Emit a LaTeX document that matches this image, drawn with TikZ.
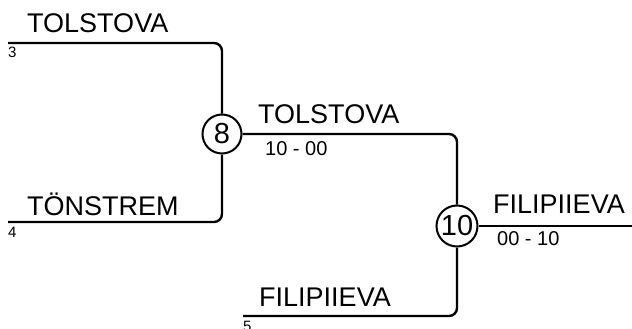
\documentclass[tikz,border=0pt]{standalone}
\usepackage{fontspec}
\setmainfont{Liberation Sans}
\begin{document}
\begin{tikzpicture}[x=1pt,y=-1pt,
  wire/.style={line width=2.4pt,rounded corners=8pt},
  match/.style={circle,draw,line width=2pt,inner sep=0pt,font=\fontsize{29}{32}\selectfont},
  plname/.style={anchor=base west,inner sep=0pt,font=\fontsize{27}{30}\selectfont},
  score/.style={anchor=base west,inner sep=0pt,font=\fontsize{20}{22}\selectfont},
  seed/.style={anchor=base west,inner sep=0pt,font=\fontsize{15}{17}\selectfont}]
\useasboundingbox (0,0) rectangle (632,329);
\node[match,minimum size=39pt] (m8) at (222,134) {8};
\node[match,minimum size=41pt] (m10) at (457,226) {10};
\coordinate (s3) at (8,43);
\coordinate (s4) at (8,222);
\coordinate (s5) at (243,316);
\coordinate (fin) at (632,226);
\draw[wire] (s3) -| (m8);
\draw[wire] (s4) -| (m8);
\draw[wire] (m8) -| (m10);
\draw[wire] (s5) -| (m10);
\draw[wire] (m10) -- (fin);
\node[plname] (t1) at (27,33) {TOLSTOVA};
\node[seed] (n3) at (8,58) {3};
\node[plname] (t2) at (27,215) {TÖNSTREM};
\node[seed] (n4) at (8,237) {4};
\node[plname] (t3) at (258,123) {TOLSTOVA};
\node[score] (r1) at (265,155) {10 - 00};
\node[plname] (t4) at (259,306) {FILIPIIEVA};
\node[seed] (n5) at (243,331) {5};
\node[plname] (t5) at (493,213) {FILIPIIEVA};
\node[score] (r2) at (497,245) {00 - 10};
\end{tikzpicture}
\end{document}
